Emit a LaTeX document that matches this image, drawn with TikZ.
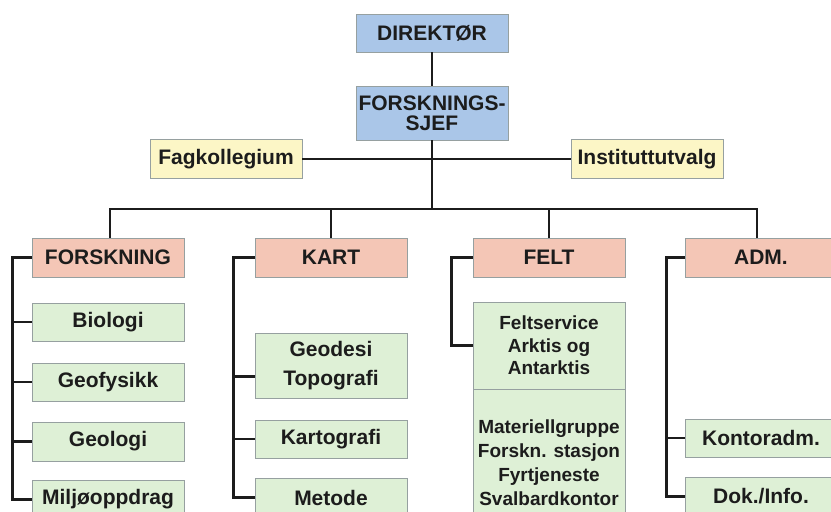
\documentclass[tikz,border=0pt]{standalone}
\usepackage{fontspec}
\setmainfont{Liberation Sans}
\usepackage{tikz}
\definecolor{chiefblue}{RGB}{170,198,232}
\definecolor{deptpink}{RGB}{244,198,182}
\definecolor{boardyellow}{RGB}{252,246,198}
\definecolor{unitgreen}{RGB}{222,240,214}
\definecolor{rimgray}{RGB}{150,160,160}
\definecolor{inkgray}{RGB}{28,28,28}
\tikzset{
	box/.style={draw=rimgray, line width=0.8pt, text=inkgray, font=\bfseries\fontsize{21}{20}\selectfont, align=center, inner sep=0pt, minimum width=152pt},
	chief/.style={box, fill=chiefblue},
	board/.style={box, fill=boardyellow, minimum height=39pt},
	dept/.style={box, fill=deptpink, minimum height=39pt},
	unit/.style={box, fill=unitgreen},
	wire/.style={draw=inkgray, line width=2.3pt}
}

\begin{document}
\begin{tikzpicture}[x=1pt, y=-1pt]
			\useasboundingbox (0,0) rectangle (831,512);
			\clip (0,0) rectangle (831,512);
			\node[chief, minimum height=38pt] (dir) at (432,33) {DIREKTØR};
			\node[chief, minimum height=54pt] (fsj) at (432,113) {FORSKNINGS-\\SJEF};
			\node[board] (fag) at (226,159) {Fagkollegium};
			\node[board] (inst) at (647,159) {Instituttutvalg};
			\node[dept] (forsk) at (108,257.5) {FORSKNING};
			\node[dept] (kart) at (331,257.5) {KART};
			\node[dept] (felt) at (549,257.5) {FELT};
			\node[dept] (adm) at (761,257.5) {ADM.};
			\node[unit, minimum height=38pt] (bio) at (108,322) {Biologi};
			\node[unit, minimum height=38pt] (geof) at (108,382) {Geofysikk};
			\node[unit, minimum height=39pt] (geol) at (108,441.5) {Geologi};
			\node[unit, minimum height=39pt] (miljo) at (108,499.5) {Miljøoppdrag};
			\node[unit, minimum height=65pt, font=\bfseries\fontsize{21}{29}\selectfont] (geo) at (331,365.5) {Geodesi\\Topografi};
			\node[unit, minimum height=38pt] (karto) at (331,439) {Kartografi};
			\node[unit, minimum height=39pt] (metode) at (331,497.5) {Metode};
			\node[unit, minimum height=87pt, font=\bfseries\fontsize{19}{22.5}\selectfont] (fserv) at (549,345.5) {Feltservice\\Arktis og\\Antarktis};
			\node[unit, minimum height=147pt, font=\bfseries\fontsize{19}{24}\selectfont] (mat) at (549,462.5) {Materiellgruppe\\Forskn. stasjon\\Fyrtjeneste\\Svalbardkontor};
			\node[unit, minimum height=38pt] (kontor) at (761,438) {Kontoradm.};
			\node[unit, minimum height=39pt] (dok) at (761,496.5) {Dok./Info.};
			\coordinate (bus) at (432,209);
			\draw[wire] (dir.south)--(fsj.north);
			\draw[wire] (fsj.south)--(bus);
			\draw[wire] (fag.east)--(inst.west);
			\draw[wire] ([xshift=2pt]forsk.north) |- (bus) -| ([xshift=-4pt]adm.north);
			\draw[wire] (kart.north)--(kart.north |- bus);
			\draw[wire] (felt.north)--(felt.north |- bus);
			\draw[wire] (forsk.west)--++(-19,0) |- (miljo.west);
			\draw[wire] (bio.west)--++(-19,0);
			\draw[wire] (geof.west)--++(-19,0);
			\draw[wire] (geol.west)--++(-19,0);
			\draw[wire] (kart.west)--++(-21,0) |- (metode.west);
			\draw[wire] ([yshift=-11pt]geo.west)--++(-21,0);
			\draw[wire] (karto.west)--++(-21,0);
			\draw[wire] (felt.west)--++(-21,0) |- (fserv.west);
			\draw[wire] (adm.west)--++(-18,0) |- (dok.west);
			\draw[wire] (kontor.west)--++(-18,0);
		\end{tikzpicture}
\end{document}
